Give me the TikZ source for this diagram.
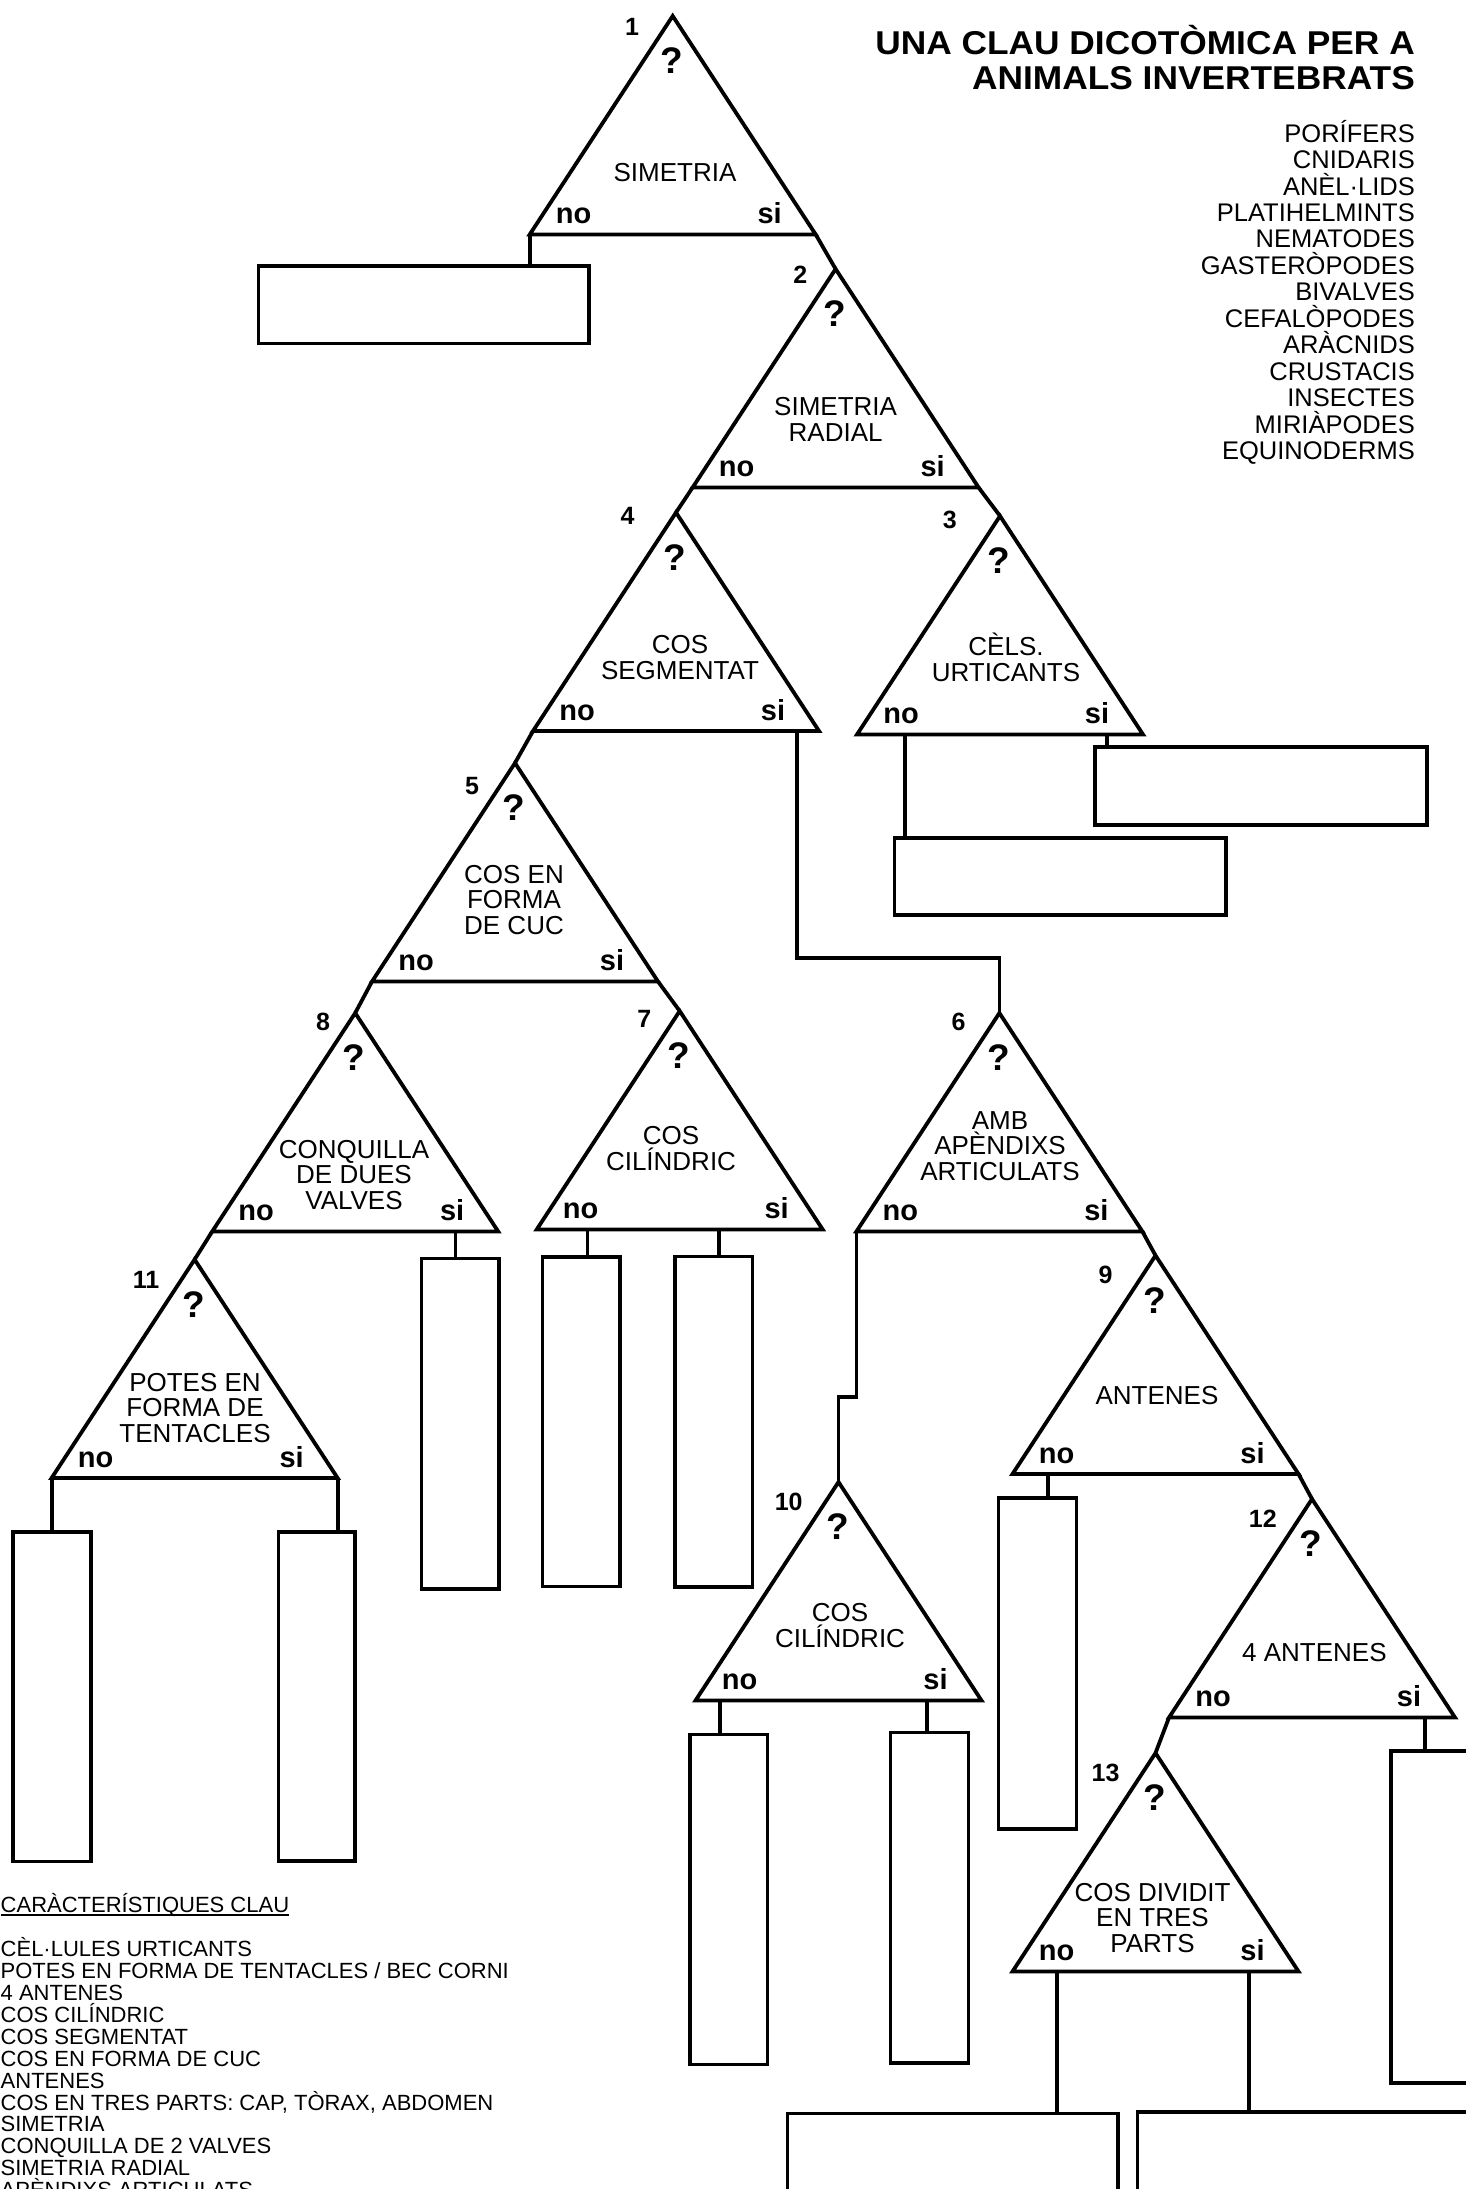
\documentclass[tikz,border=0pt]{standalone}
\usepackage{fontspec}
\setmainfont{Liberation Sans}
\usetikzlibrary{calc}
\tikzset{
  ln/.style={line width=3.8pt, line join=miter},
  boxst/.style={draw, line width=3.6pt, inner sep=0pt, outer sep=0pt, anchor=north west},
  qm/.style={font=\bfseries\fontsize{37}{37}\selectfont, inner sep=0pt},
  yn/.style={font=\bfseries\fontsize{29}{29}\selectfont, inner sep=0pt, anchor=base},
  num/.style={font=\bfseries\fontsize{25}{25}\selectfont, inner sep=0pt},
  lbl/.style={font=\fontsize{26}{25.5}\selectfont, align=center, inner sep=0pt},
  ttl/.style={font=\bfseries\fontsize{33}{33}\selectfont, inner sep=0pt, anchor=base east},
  lst/.style={font=\fontsize{25.5}{26.5}\selectfont, inner sep=0pt, anchor=base east},
  klst/.style={font=\fontsize{22}{22}\selectfont, inner sep=0pt, anchor=base west},
}
\newcommand\mktri[3]{%
  \coordinate (#1-a) at (#2,#3);
  \coordinate (#1-l) at ({#2-143},{#3+218.5});
  \coordinate (#1-r) at ({#2+143},{#3+218.5});
  \draw[ln] (#1-a) -- (#1-l) -- (#1-r) -- cycle;
  \node[qm] (#1-q) at ({#2-1},{#3+45}) {?};
  \node[yn] (#1-no) at ({#2-99},{#3+207.5}) {no};
  \node[yn] (#1-si) at ({#2+97},{#3+207.5}) {si};
}
\newcommand\mkbox[5]{%
  \pgfmathsetmacro\bxw{#4-#2}\pgfmathsetmacro\bxh{#5-#3}%
  \node[boxst, minimum width=\bxw pt, minimum height=\bxh pt] (#1) at (#2,#3) {};
}
\newcommand\mkstem[3]{%
  \coordinate (#1) at #2;
  \draw[ln] (#1) -- (#1 |- #3.north);
}
\begin{document}
\begin{tikzpicture}[x=1pt, y=-1pt]
\useasboundingbox (0,0) rectangle (1466,2189);
\fill[white] (0,0) rectangle (1466,2189);
\clip (0,0) rectangle (1466,2189);

% ---- title and list
\node[ttl] (title1) at (1415,54.5) {\scalebox{1.07}[1]{UNA CLAU DICOTÒMICA PER A}};
\node[ttl] (title2) at (1415,89.3) {\scalebox{1.07}[1]{ANIMALS INVERTEBRATS}};
\foreach \t [count=\i from 0] in {PORÍFERS, CNIDARIS, ANÈL·LIDS, PLATIHELMINTS, NEMATODES, GASTERÒPODES, BIVALVES, CEFALÒPODES, ARÀCNIDS, CRUSTACIS, INSECTES, MIRIÀPODES, EQUINODERMS}
  \node[lst] (grp\i) at (1415,{142.1+26.47*\i}) {\t};

% ---- triangles
\mktri{T1}{672.7}{16}
\mktri{T2}{835.6}{269}
\mktri{T3}{1000}{516}
\mktri{T4}{676}{512.5}
\mktri{T5}{515}{763}
\mktri{T6}{999.4}{1013}
\mktri{T7}{679.7}{1011}
\mktri{T8}{355.2}{1013}
\mktri{T9}{1155.5}{1255.5}
\mktri{T10}{838.5}{1482}
\mktri{T11}{194.6}{1259.5}
\mktri{T12}{1312}{1499}
\mktri{T13}{1155.5}{1753}

% ---- numbers
\node[num] (n1) at (632,27) {1};
\node[num] (n2) at (800.4,275) {2};
\node[num] (n3) at (949.7,519.6) {3};
\node[num] (n4) at (627.6,516) {4};
\node[num] (n5) at (472,786) {5};
\node[num] (n6) at (958.6,1022) {6};
\node[num] (n7) at (644.3,1019.3) {7};
\node[num] (n8) at (323,1022) {8};
\node[num] (n9) at (1105.5,1274.6) {9};
\node[num] (n10) at (788.7,1501.4) {10};
\node[num] (n11) at (146,1280) {11};
\node[num] (n12) at (1262.8,1519) {12};
\node[num] (n13) at (1105.5,1772.4) {13};

% ---- questions
\node[lbl] (q1) at (675,173) {SIMETRIA};
\node[lbl] (q2) at (835.6,419.5) {SIMETRIA\\RADIAL};
\node[lbl] (q3) at (1006,657.5) {CÈLS.\\URTICANTS};
\node[lbl] (q4) at (680,657.5) {COS\\SEGMENTAT};
\node[lbl] (q5) at (514,900) {COS EN\\FORMA\\DE CUC};
\node[lbl] (q6) at (1000,1146) {AMB\\APÈNDIXS\\ARTICULATS};
\node[lbl] (q7) at (671,1148.3) {COS\\CILÍNDRIC};
\node[lbl] (q8) at (354,1175) {CONQUILLA\\DE DUES\\VALVES};
\node[lbl] (q9) at (1157,1396) {ANTENES};
\node[lbl] (q10) at (840,1625.5) {COS\\CILÍNDRIC};
\node[lbl] (q11) at (195,1407.8) {POTES EN\\FORMA DE\\TENTACLES};
\node[lbl] (q12) at (1314.4,1652.7) {4 ANTENES};
\node[lbl] (q13) at (1152.5,1918) {COS DIVIDIT\\EN TRES\\PARTS};

% ---- answer boxes
\mkbox{B1}{258.6}{266}{589}{343.5}
\mkbox{B3no}{894.3}{838}{1226}{915}
\mkbox{B3si}{1095}{747}{1427}{825}
\mkbox{B8si}{421.4}{1258.6}{498.8}{1589}
\mkbox{B7no}{542.5}{1256.8}{620.2}{1586.5}
\mkbox{B7si}{675}{1256.5}{752.5}{1587}
\mkbox{B11no}{13.2}{1531.7}{91}{1861.3}
\mkbox{B11si}{278.4}{1531.7}{355}{1861.2}
\mkbox{B9no}{998.5}{1497.8}{1076.4}{1828.7}
\mkbox{B10no}{690}{1734.3}{767.6}{2064.5}
\mkbox{B10si}{890.5}{1732.5}{968.5}{2062.7}
\mkbox{B12si}{1390.9}{1751}{1475}{2082.7}
\mkbox{B13no}{787.3}{2113.5}{1117.7}{2200}
\mkbox{B13si}{1137.4}{2112}{1475}{2200}

% ---- connectors between triangles
\draw[ln] (T1-r) -- (T2-a);
\draw[ln] (T2-l) -- (T4-a);
\draw[ln] (T2-r) -- (T3-a);
\draw[ln] (T4-l) -- (T5-a);
\draw[ln] (T5-l) -- (T8-a);
\draw[ln] (T5-r) -- (T7-a);
\draw[ln] (T8-l) -- (T11-a);
\draw[ln] (T6-r) -- (T9-a);
\draw[ln] (T9-r) -- (T12-a);
\draw[ln] (T12-l) -- (T13-a);
\coordinate (T4-ss) at (797,731);
\coordinate (k1) at (797,958);
\draw[ln] (T4-ss) -- (k1) -| (T6-a);
\coordinate (k2) at (838.5,1397);
\draw[ln] (T6-l) |- (k2) -- (T10-a);

% ---- stems to boxes
\draw[ln] (T1-l) -- (T1-l |- B1.north);
\draw[ln] (T11-l) -- (T11-l |- B11no.north);
\draw[ln] (T11-r) -- (T11-r |- B11si.north);
\mkstem{T3-sn}{(904.6,734.5)}{B3no}
\mkstem{T3-ss}{(1107,734.5)}{B3si}
\mkstem{T8-ss}{(455.4,1231.5)}{B8si}
\mkstem{T7-sn}{(587.5,1229.5)}{B7no}
\mkstem{T7-ss}{(719.3,1229.5)}{B7si}
\mkstem{T9-sn}{(1047.8,1474)}{B9no}
\mkstem{T10-sn}{(719.6,1700.5)}{B10no}
\mkstem{T10-ss}{(927,1700.5)}{B10si}
\mkstem{T12-ss}{(1424.7,1717.5)}{B12si}
\mkstem{T13-sn}{(1057.2,1971.5)}{B13no}
\mkstem{T13-ss}{(1248.7,1971.5)}{B13si}

% ---- key characteristics
\node[klst] (khead) at (0.5,1912.3) {CARÀCTERÍSTIQUES CLAU};
\draw[line width=2pt] ([yshift=-2.5pt]khead.base west) -- ([yshift=-2.5pt]khead.base east);
\foreach \t [count=\i from 0] in {CÈL·LULES URTICANTS, POTES EN FORMA DE TENTACLES / BEC CORNI, 4 ANTENES, COS CILÍNDRIC, COS SEGMENTAT, COS EN FORMA DE CUC, ANTENES, {COS EN TRES PARTS: CAP, TÒRAX, ABDOMEN}, SIMETRIA, CONQUILLA DE 2 VALVES, SIMETRIA RADIAL, APÈNDIXS ARTICULATS}
  \node[klst] (key\i) at (0.5,{1956.7+21.9*\i}) {\t};
\end{tikzpicture}
\end{document}
